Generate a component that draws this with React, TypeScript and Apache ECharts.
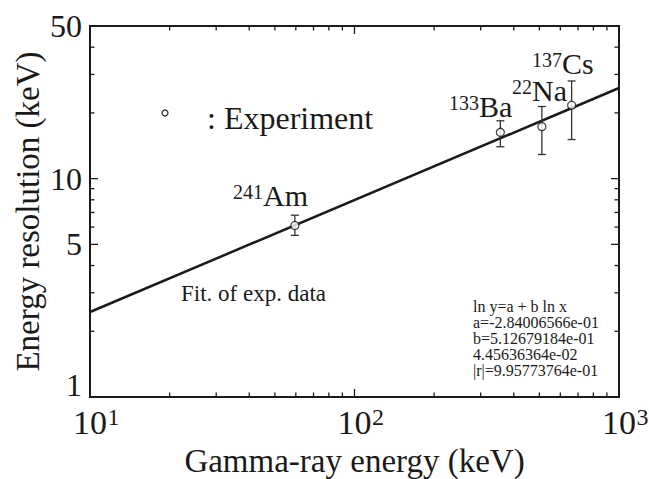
import React, { useEffect, useRef } from "react";
import * as echarts from "echarts";

// ---- data ----
const isotopeMass = ["241", "133", "22", "137"];
const isotopeSymbol = ["Am", "Ba", "Na", "Cs"];
const energies = [59.5, 356, 511, 662];
const resolution = [6.1, 16.3, 17.3, 21.7];
const errLow = [5.5, 14.0, 12.9, 15.1];
const errHigh = [6.8, 18.4, 21.4, 28.0];
const fitX = [10, 1000];
const fitY = [2.45, 26.0];
const xMinorTicks = [20, 30, 40, 50, 60, 70, 80, 90, 200, 300, 400, 500, 600, 700, 800, 900];
const xMajorTicks = [100];
const yMinorTicks = [2, 3, 4, 6, 7, 8, 9, 20, 30, 40];
const yMajorTicks = [5, 10];
const yTickLabels = [1, 5, 10, 50];
const fitLines = [
  "ln y=a + b ln x",
  "a=-2.84006566e-01",
  "b=5.12679184e-01",
  "4.45636364e-02",
  "|r|=9.95773764e-01",
];

const FONT = "Liberation Serif";
const INK = "#1a1a1a";

// layout for annotation texts (pixel positions, left edge / vertical middle)
const isoLabelPos = [
  [233, 195],
  [449, 106],
  [512, 90],
  [532, 63],
];

export default function App() {
  const ref = useRef<HTMLDivElement>(null);

  useEffect(() => {
    document.body.style.margin = "0";
    if (!ref.current) return;
    const chart = echarts.init(ref.current, null, { renderer: "svg" });

    const xTickData = [
      ...xMinorTicks.map((v) => [v, 1, 0]),
      ...xMajorTicks.map((v) => [v, 1, 1]),
    ];
    const yTickData = [
      ...yMinorTicks.map((v) => [10, v, 0]),
      ...yMajorTicks.map((v) => [10, v, 1]),
    ];

    const option: any = {
      animation: false,
      backgroundColor: "#fff",
      grid: {
        left: 90,
        top: 26,
        width: 529,
        height: 371,
        show: true,
        borderColor: INK,
        borderWidth: 2,
        backgroundColor: "transparent",
        containLabel: false,
        outerBoundsMode: "none",
      },
      xAxis: {
        type: "log",
        logBase: 10,
        min: 10,
        max: 1000,
        axisLine: { show: false },
        axisTick: { show: false },
        splitLine: { show: false },
        axisLabel: {
          margin: 8,
          formatter: (v: number) => {
            const e = Math.round(Math.log10(v));
            if (Math.abs(Math.pow(10, e) - v) > 1e-6 * v) return "";
            return `{p|}{b|10}{s|${e}}`;
          },
          rich: {
            p: { width: 13, fontSize: 24, fontFamily: FONT },
            b: { fontSize: 34, fontFamily: FONT, color: INK, lineHeight: 34 },
            s: {
              width: 13,
              fontSize: 24,
              fontFamily: FONT,
              color: INK,
              verticalAlign: "top",
              lineHeight: 24,
            },
          },
        },
        name: "Gamma-ray energy (keV)",
        nameLocation: "middle",
        nameGap: 47,
        nameTextStyle: { fontSize: 33, fontFamily: FONT, color: INK, lineHeight: 33 },
      },
      yAxis: {
        type: "log",
        logBase: 10,
        min: 1,
        max: 50,
        axisLine: { show: false },
        axisTick: { show: false },
        splitLine: { show: false },
        axisLabel: { show: false },
        name: "Energy resolution (keV)",
        nameLocation: "middle",
        nameRotate: 90,
        nameGap: 46,
        nameTextStyle: { fontSize: 33, fontFamily: FONT, color: INK, lineHeight: 33 },
      },
      series: [
        {
          type: "line",
          name: "Fit. of exp. data",
          data: fitX.map((x, i) => [x, fitY[i]]),
          symbol: "none",
          lineStyle: { color: INK, width: 2.5 },
          z: 2,
          silent: true,
        },
        {
          type: "custom",
          name: "errorbars",
          data: energies.map((x, i) => [x, errLow[i], errHigh[i]]),
          encode: { x: 0, y: [1, 2] },
          z: 3,
          silent: true,
          renderItem: (params: any, api: any) => {
            const x = api.value(0);
            const lo = api.coord([x, api.value(1)]);
            const hi = api.coord([x, api.value(2)]);
            const hw = 4;
            const st = { stroke: "#333", lineWidth: 1.3 };
            return {
              type: "group",
              children: [
                { type: "line", shape: { x1: lo[0], y1: lo[1], x2: hi[0], y2: hi[1] }, style: st },
                { type: "line", shape: { x1: hi[0] - hw, y1: hi[1], x2: hi[0] + hw, y2: hi[1] }, style: st },
                { type: "line", shape: { x1: lo[0] - hw, y1: lo[1], x2: lo[0] + hw, y2: lo[1] }, style: st },
              ],
            };
          },
        },
        {
          type: "scatter",
          name: "Experiment",
          data: energies.map((x, i) => [x, resolution[i]]),
          symbol: "circle",
          symbolSize: 8,
          itemStyle: { color: "#fff", borderColor: INK, borderWidth: 1.3 },
          z: 4,
          silent: true,
        },
        {
          type: "custom",
          name: "xticks",
          data: xTickData,
          encode: { x: 0, y: 1 },
          clip: false,
          silent: true,
          z: 5,
          renderItem: (params: any, api: any) => {
            const cs = params.coordSys;
            const px = api.coord([api.value(0), 1])[0];
            const len = api.value(2) === 1 ? 8 : 4.5;
            const bottom = cs.y + cs.height;
            const st = { stroke: INK, lineWidth: 1.3 };
            return {
              type: "group",
              children: [
                { type: "line", shape: { x1: px, y1: bottom, x2: px, y2: bottom - len }, style: st },
                { type: "line", shape: { x1: px, y1: cs.y, x2: px, y2: cs.y + len }, style: st },
              ],
            };
          },
        },
        {
          type: "custom",
          name: "yticks",
          data: yTickData,
          encode: { x: 0, y: 1 },
          clip: false,
          silent: true,
          z: 5,
          renderItem: (params: any, api: any) => {
            const cs = params.coordSys;
            const py = api.coord([10, api.value(1)])[1];
            const len = api.value(2) === 1 ? 8 : 4.5;
            const right = cs.x + cs.width;
            const st = { stroke: INK, lineWidth: 1.3 };
            return {
              type: "group",
              children: [
                { type: "line", shape: { x1: cs.x, y1: py, x2: cs.x + len, y2: py }, style: st },
                { type: "line", shape: { x1: right, y1: py, x2: right - len, y2: py }, style: st },
              ],
            };
          },
        },
        {
          type: "custom",
          name: "ylabels",
          data: yTickLabels.map((v) => [10, v]),
          encode: { x: 0, y: 1 },
          clip: false,
          silent: true,
          z: 5,
          renderItem: (params: any, api: any) => {
            const cs = params.coordSys;
            const v = api.value(1);
            const py = api.coord([10, v])[1];
            const isBottom = v === yTickLabels[0];
            return {
              type: "text",
              style: {
                text: String(v),
                x: cs.x - 8,
                y: isBottom ? py + 4 : py,
                align: "right",
                verticalAlign: isBottom ? "bottom" : "middle",
                fontSize: 32,
                lineHeight: 32,
                fontFamily: FONT,
                fill: INK,
              },
            };
          },
        },
      ],
      graphic: [
        ...isotopeMass.map((m, i) => ({
          type: "text",
          x: isoLabelPos[i][0],
          y: isoLabelPos[i][1],
          silent: true,
          style: {
            text: `{s|${m}}{m|${isotopeSymbol[i]}}`,
            align: "left",
            verticalAlign: "middle",
            rich: {
              s: { fontSize: 20, fontFamily: FONT, fill: INK, verticalAlign: "top", lineHeight: 20 },
              m: { fontSize: 30, fontFamily: FONT, fill: INK, lineHeight: 26 },
            },
          },
        })),
        {
          type: "circle",
          shape: { cx: 165, cy: 113, r: 3 },
          style: { fill: "#fff", stroke: INK, lineWidth: 1.2 },
          silent: true,
        },
        {
          type: "text",
          x: 207,
          y: 118,
          silent: true,
          style: {
            text: ": Experiment",
            fontSize: 32,
            fontFamily: FONT,
            fill: INK,
            align: "left",
            verticalAlign: "middle",
          },
        },
        {
          type: "text",
          x: 181,
          y: 293,
          silent: true,
          style: {
            text: "Fit. of exp. data",
            fontSize: 23,
            fontFamily: FONT,
            fill: INK,
            align: "left",
            verticalAlign: "middle",
          },
        },
        {
          type: "group",
          x: 473,
          y: 298,
          silent: true,
          children: fitLines.map((t, i) => ({
            type: "text",
            x: 0,
            y: i * 16.2,
            style: {
              text: t,
              fontSize: 16,
              fontFamily: FONT,
              fill: INK,
              align: "left",
              verticalAlign: "top",
            },
          })),
        },
      ],
    };

    chart.setOption(option);
    return () => chart.dispose();
  }, []);

  return <div ref={ref} style={{ width: 649, height: 479 }} />;
}
